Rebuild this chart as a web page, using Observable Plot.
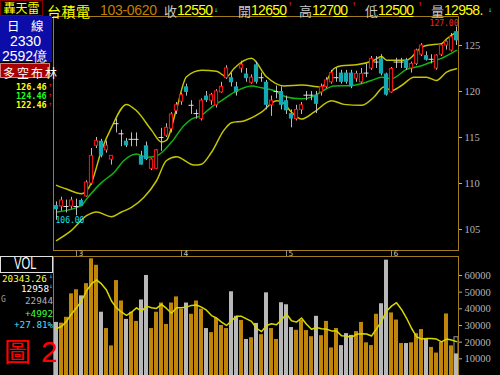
<!DOCTYPE html>
<html><head><meta charset="utf-8">
<script src="https://cdn.jsdelivr.net/npm/d3@7"></script>
<script src="https://cdn.jsdelivr.net/npm/@observablehq/plot@0.6"></script>
<style>
html,body{margin:0;padding:0;background:#000;}
#wrap{position:relative;width:500px;height:375px;overflow:hidden;background:#000;}
#wrap svg{position:absolute;left:0;}
.t{position:absolute;white-space:nowrap;line-height:1;}
</style></head><body><div id="wrap"></div>
<script>
// ---------- data ----------
const open  = [107.6,107.5,107.5,107.5,107.5,108.15,108.6,110.0,114.1,114.6,113.6,112.6,116.5,115.4,114.6,114.8,114.8,113.0,114.1,111.6,111.6,115.0,115.2,115.95,117.9,118.9,120.5,118.5,117.6,117.0,119.5,119.0,118.5,119.9,121.45,121.5,120.5,122.5,121.9,120.95,122.9,121.5,121.0,118.5,120.0,120.0,119.0,117.6,117.0,118.0,119.6,119.6,119.6,119.9,120.5,121.0,121.5,122.0,122.0,122.0,121.4,121.0,122.0,122.5,123.2,123.55,121.9,119.9,123.2,123.2,123.4,122.5,123.0,124.0,123.9,123.5,122.5,124.0,125.0,124.45,126.5];
const high  = [108.0,108.5,108.2,108.5,108.3,108.3,110.3,113.8,115.0,114.8,114.6,113.0,117.0,115.8,114.9,115.5,115.5,113.5,114.5,112.7,113.7,116.0,116.5,117.7,118.8,119.8,120.8,119.0,118.0,119.2,120.0,119.8,120.2,121.0,122.8,122.0,121.0,123.3,122.5,121.8,123.2,122.0,121.2,119.5,120.6,120.5,119.5,118.0,118.5,118.8,120.0,120.0,120.0,120.8,121.5,122.3,122.5,122.3,122.3,122.3,122.2,122.5,123.0,123.8,123.8,124.0,122.0,122.6,123.6,123.6,123.6,123.2,124.6,125.2,124.3,124.0,124.0,125.2,125.5,126.3,127.0];
const low   = [106.0,107.0,106.8,107.2,106.5,107.5,108.5,109.8,113.8,112.8,113.3,112.0,115.5,114.0,113.9,114.0,114.0,112.0,112.5,111.4,111.5,113.5,115.0,115.5,117.5,118.5,119.5,117.5,117.0,116.8,118.8,118.5,118.2,119.8,121.3,120.5,119.5,122.0,121.0,120.8,120.8,121.0,118.0,117.3,119.2,118.0,117.5,116.05,116.8,117.5,119.0,119.0,117.6,119.5,120.3,120.8,121.0,120.8,120.8,120.3,121.0,120.8,121.5,122.3,122.5,121.7,119.5,119.8,122.5,122.5,122.3,122.0,122.8,123.8,123.3,123.0,122.3,123.8,124.5,124.3,125.0];
const close = [107.15,108.15,107.5,108.15,107.5,107.5,110.1,113.0,114.6,113.0,114.1,113.0,116.5,115.4,114.1,114.8,114.8,112.0,112.6,112.6,113.6,115.0,116.05,117.5,118.5,119.6,119.9,118.5,117.6,119.0,119.0,119.6,120.0,120.5,122.5,120.95,119.9,122.9,121.4,121.5,121.0,121.5,118.5,119.0,120.0,118.5,117.9,117.0,118.0,118.5,119.6,119.6,118.6,120.5,121.2,122.0,121.5,121.0,121.0,120.5,121.9,121.9,122.0,123.55,123.2,121.9,119.6,122.45,123.2,123.2,122.5,123.0,124.45,125.0,123.4,123.5,123.9,125.0,125.4,125.9,125.5];

// Bollinger bands (bar index, price)
const upperIdx  = [0,2,5,7,9,11,14,16,19,21,22,24,26,29,32,34,35.5,39,42,45.5,49,53,55.5,57,60,63.5,65,66,70,73,74,77,78,80];
const upperVal  = [109.8,109.4,108.9,110.1,113.6,116.1,118.6,117.9,115.8,114.5,114.7,118.1,121.6,122.3,122.2,121.6,122.5,123.6,121.6,120.6,120.7,120.5,122.5,122.8,122.9,123.4,123.8,123.4,123.4,124.8,125.0,125.2,125.7,126.46];
const middleIdx = [0,5,6,9,11.5,13.5,16,18,20,23,25.5,27,29,31,33,35.5,39,41,43.5,46,49,51.5,53,55.5,59,63,65,67,70,73,75,77,80];
const middleVal = [106.9,107.6,108.3,110.1,111.2,112.5,113.2,112.85,113.0,114.5,116.3,117.0,117.4,118.3,119.0,119.9,120.6,120.4,120.1,119.4,119.2,119.5,120.0,120.6,120.65,121.2,121.55,121.4,122.4,122.8,123.2,123.6,124.46];
const lowerIdx  = [0,3,6,8,11,13,15,17.5,20,22,24,27.5,29,31,33.5,35,37.5,41,44,45,47,49,51.5,55,57.5,61,63.5,65.5,67,69,71.5,74,76,78,80];
const lowerVal  = [103.8,104.9,106.5,106.9,106.4,106.9,107.4,108.5,110.3,112.5,112.9,112.0,112.1,113.4,115.8,116.6,116.8,117.75,119.0,118.9,117.75,117.0,117.75,119.0,118.6,118.5,119.4,120.5,120.1,120.65,121.55,121.55,121.2,122.1,122.46];

const vol   = [31850,31420,34910,48990,51440,47770,55120,70000,66140,37970,28170,17760,56950,44710,33680,37970,32460,45320,60020,28170,37970,43480,30620,43480,47150,39810,43480,36740,44710,39810,28170,25720,34290,30010,28170,50220,35520,33070,21620,22660,31230,24500,49600,28170,21620,43660,42440,28780,27130,33070,26950,23270,35520,23880,32460,16530,28170,17940,25110,24070,26330,31850,19600,17940,36740,43050,69200,37540,33250,19170,19170,19600,25110,27560,21620,16840,13470,19780,36930,17760,12958];
const volMA = [28170,29400,32460,36930,40600,44700,50830,54930,57380,54930,51260,44700,40600,37970,36130,37970,40600,38580,41640,40600,40230,42680,40230,37360,40600,40600,41030,42070,42260,41030,39190,35950,34480,32030,30010,32890,35520,35520,33990,32460,28350,26330,30010,31050,30440,33500,36930,32890,32030,34480,30800,27740,28780,27990,27740,26760,26760,23880,23700,22840,24680,25110,24920,23700,27990,32460,38580,41640,43660,39620,34480,28350,23270,21860,22230,22230,21860,20210,21860,21250,20343.26];
const estVol = 22944;

const priceTicks = [105,110,115,120,125];
const volTicks = [10000,20000,30000,40000,50000,60000];
const monthLabels = ["3","4","5","6"];
const monthStart = [4,25,46,67];

// ---------- style ----------
const FRAME = "#a07c1c", RED = "#ff1414", CYAN = "#14aab4", WICK = "#bcbcbc",
      BAND = "#c4c400", MID = "#10b410", VOLO = "#c0860c", VOLG = "#b8b8b8";
const CJK = "'Noto Sans CJK TC',sans-serif", NUM = "'Liberation Sans',sans-serif",
      MONO = "'DejaVu Sans Mono',monospace", SERIF = "'Liberation Serif',serif";

const W = document.getElementById("wrap");
function T(html, x, y, css) {
  const d = document.createElement("div");
  d.className = "t";
  d.style.cssText = `left:${x}px;top:${y}px;` + (css || "");
  d.innerHTML = html; W.appendChild(d); return d;
}

const candles = open.map((o, i) => ({i, o, h: high[i], l: low[i], c: close[i]}));
const up = candles.filter(d => d.c > d.o), dn = candles.filter(d => d.c < d.o), dj = candles.filter(d => d.c === d.o);
const pts = (I, V) => I.map((x, k) => ({x, y: V[k]}));
const lowC = candles.reduce((a, b) => b.l < a.l ? b : a);
const highC = candles.reduce((a, b) => b.h > a.h ? b : a);
const XD = [-0.6, 80.4];

// ---------- price panel ----------
const price = Plot.plot({
  width: 500, height: 256, marginTop: 16, marginBottom: 6, marginLeft: 53, marginRight: 42,
  style: {background: "transparent", color: "#b4b4b4", fontFamily: SERIF, fontSize: "10.5px", overflow: "visible"},
  x: {domain: XD, axis: null},
  y: {domain: [102.72, 128.15], axis: "right", ticks: priceTicks, tickSize: 3, tickPadding: 3, tickFormat: d => String(d), label: null},
  marks: [
    Plot.line(pts(upperIdx, upperVal), {x: "x", y: "y", stroke: BAND, curve: "monotone-x"}),
    Plot.line(pts(lowerIdx, lowerVal), {x: "x", y: "y", stroke: BAND, curve: "monotone-x"}),
    Plot.line(pts(middleIdx, middleVal), {x: "x", y: "y", stroke: MID, curve: "monotone-x"}),
    Plot.ruleX(candles, {x: "i", y1: "l", y2: "h", stroke: WICK}),
    Plot.rect(up, {x1: d => d.i - 0.32, x2: d => d.i + 0.32, y1: "o", y2: "c", fill: "#000", stroke: RED}),
    Plot.rect(dn, {x1: d => d.i - 0.42, x2: d => d.i + 0.42, y1: "o", y2: "c", fill: CYAN}),
    Plot.ruleY(dj, {x1: d => d.i - 0.5, x2: d => d.i + 0.5, y: "c", stroke: "#e0e0e0"}),
    Plot.text([lowC], {x: "i", y: "l", text: d => d.l.toFixed(2), textAnchor: "start", dx: -1, fill: "#10e0f0", fontSize: 8, fontFamily: MONO}),
    Plot.text([highC], {x: "i", y: "h", text: d => d.h.toFixed(2), textAnchor: "end", dx: 2, dy: -4, fill: "#ff2020", fontSize: 8, fontFamily: MONO}),
    Plot.frame({stroke: FRAME})
  ]
});
price.style.top = "0px";
W.appendChild(price);

// ---------- month strip ----------
const strip = Plot.plot({
  width: 500, height: 6, marginTop: 0, marginBottom: 0, marginLeft: 53, marginRight: 42,
  style: {background: "transparent", overflow: "visible"},
  x: {domain: XD, axis: null}, y: {axis: null},
  marks: [
    Plot.tickX(monthStart, {x: d => d, stroke: "#8c8c8c"}),
    Plot.text(monthStart, {x: d => d, text: (d, i) => monthLabels[i], textAnchor: "start", dx: 2, frameAnchor: "middle", fill: "#c8c8c8", fontSize: 7.5, fontFamily: "'DejaVu Sans',sans-serif"})
  ]
});
strip.style.top = "250px";
W.appendChild(strip);

// ---------- volume panel ----------
const vdata = vol.map((v, i) => ({i, v, down: close[i] < open[i]}));
const last = vdata[vdata.length - 1];
const volume = Plot.plot({
  width: 500, height: 380, marginTop: 256, marginBottom: 5, marginLeft: 53, marginRight: 42,
  style: {background: "transparent", color: "#b4b4b4", fontFamily: SERIF, fontSize: "10.5px", overflow: "visible"},
  x: {domain: XD, axis: null},
  y: {domain: [0, 71400], axis: "right", ticks: volTicks, tickSize: 3, tickPadding: 3, tickFormat: d => String(d), label: null},
  marks: [
    Plot.rect(vdata.slice(0, -1), {x1: d => d.i - 0.4, x2: d => d.i + 0.4, y1: 0, y2: "v", fill: d => d.down ? VOLG : VOLO}),
    Plot.rect([{i: last.i, v: estVol}], {x1: d => d.i - 0.4, x2: d => d.i + 0.4, y1: 0, y2: "v", fill: "#000", stroke: "#9a9a9a"}),
    Plot.rect([last], {x1: d => d.i - 0.4, x2: d => d.i + 0.4, y1: 0, y2: "v", fill: VOLG}),
    Plot.line(volMA.map((v, i) => ({i, v})), {x: "i", y: "v", stroke: "#d8d800"}),
    Plot.frame({stroke: FRAME})
  ]
});
volume.style.top = "0px";
W.appendChild(volume);

// ---------- header ----------
const HD = `font:14px ${NUM};letter-spacing:-0.7px;color:#ffff00;`;
T("轟天雷", 0, 0, `width:41px;height:14px;border:1px solid #8a0000;color:#ffff00;font:12px ${CJK};text-align:center;line-height:14px;`);
T("台積電", 47, 1, `color:#ffff00;font:14px ${CJK};letter-spacing:0.5px;`);
T("103-0620", 100, 2, `color:#c08000;font:14px ${NUM};letter-spacing:-0.3px;`);
T("收", 164, 1, `color:#c8c8c8;font:13px ${CJK};`);
T("125<u>50</u>", 177, 2, HD);
T("↓", 214, 6, `color:#10e0f0;font:7px ${MONO};`);
T("開", 238, 1, `color:#c8c8c8;font:13px ${CJK};`);
T("126<u>50</u>", 251, 2, HD);
T("↑", 288, 0, `color:#ff2020;font:7px ${MONO};`);
T("高", 299, 1, `color:#c8c8c8;font:13px ${CJK};`);
T("127<u>00</u>", 312, 2, HD);
T("↑", 352, 0, `color:#ff2020;font:7px ${MONO};`);
T("低", 365, 1, `color:#c8c8c8;font:13px ${CJK};`);
T("125<u>00</u>", 378, 2, HD);
T("↑", 418, 0, `color:#ff2020;font:7px ${MONO};`);
T("量", 431, 1, `color:#c8c8c8;font:13px ${CJK};`);
T("12958.", 444, 2, HD);
T("↓", 488, 6, `color:#10e0f0;font:7px ${MONO};`);

// ---------- left panel (price) ----------
T("", 0, 16, "width:52px;height:46px;background:#0c0ca8;");
T("日", 7, 16, `color:#fff;font:12.5px ${CJK};`);
T("線", 31, 16, `color:#fff;font:12.5px ${CJK};`);
T("2330", 10, 33, `color:#fff;font:14px ${NUM};`);
T("2592<span style=\"font:13.5px ${CJK}\">億</span>", 2, 48, `color:#fff;font:14px ${NUM};`);
T("", 0, 63, "width:48px;height:13px;background:#a80000;border:1px solid #d88080;");
T("多空布林", 3, 63.5, `color:#fff;font:12px ${CJK};letter-spacing:2px;`);
T("126.46", 16, 81.5, `color:#ffff00;font:bold 8.5px ${MONO};`);
T("124.46", 16, 91, `color:#20ff20;font:bold 8.5px ${MONO};`);
T("122.46", 16, 100, `color:#ffff00;font:bold 8.5px ${MONO};`);
T("↑", 48.5, 81, `color:#ff2020;font:6px ${MONO};`);
T("↑", 48.5, 90.5, `color:#ff2020;font:6px ${MONO};`);
T("↑", 48.5, 99.5, `color:#ff2020;font:6px ${MONO};`);

// ---------- left panel (volume) ----------
T("", 0, 256, "width:51px;height:15px;border:1px solid #e0e0e0;");
T("<span style=\"display:inline-block;transform:scaleX(0.7);transform-origin:left\">VOL</span>", 14, 257, `color:#fff;font:16px ${NUM};line-height:14px;`);
T("20343.26", 2, 272.5, `color:#ffff40;font:9.3px ${MONO};`);
T("↓", 49, 272, `color:#10e0f0;font:6.5px ${MONO};`);
T("12958", 21, 282.5, `color:#fff;font:9.3px ${MONO};`);
T("↓", 49, 282, `color:#10e0f0;font:6.5px ${MONO};`);
T("G", 1, 295, `color:#a0a0a0;font:8px ${MONO};`);
T("22944", 25, 295, `color:#b0b0b0;font:9.3px ${MONO};`);
T("+4992", 25, 307.5, `color:#40ff40;font:9.3px ${MONO};`);
T("+27.81%", 14, 318.5, `color:#40e0ff;font:9.3px ${MONO};`);
T("圖", 4, 334, `color:#ff0000;font:27px ${CJK};line-height:1.25;`);
T("2", 41, 333, `color:#ff0000;font:30px ${NUM};line-height:1.25;`);
</script></body></html>
